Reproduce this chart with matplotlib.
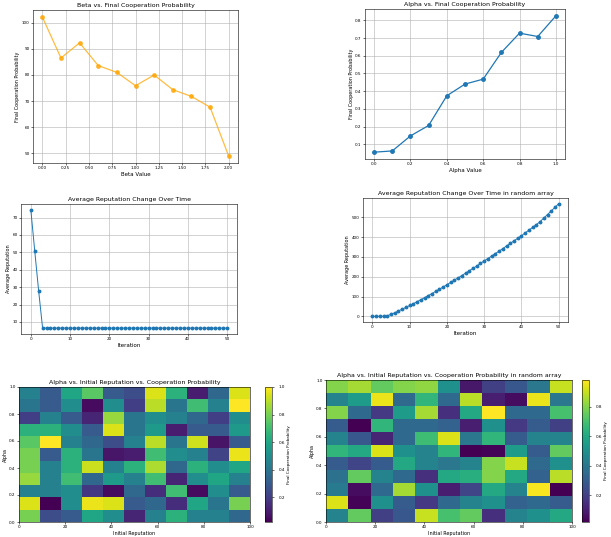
import matplotlib

matplotlib.use("Agg")
import matplotlib.pyplot as plt

# beta sweep
beta_values = [0.0, 0.2, 0.4, 0.6, 0.8, 1.0, 1.2, 1.4, 1.6, 1.8, 2.0]
beta_tick_labels = ["0.00", "0.25", "0.50", "0.75", "1.00", "1.25", "1.50", "1.75", "2.00"]
beta_coop = [102.2, 86.5, 92.3, 83.6, 81.0, 75.9, 80.0, 74.4, 71.8, 67.7, 49.0]

# alpha sweep
alpha_values = [0.0, 0.1, 0.2, 0.3, 0.4, 0.5, 0.6, 0.7, 0.8, 0.9, 1.0]
alpha_coop = [0.055, 0.062, 0.147, 0.206, 0.374, 0.44, 0.468, 0.619, 0.728, 0.709, 0.826]

# reputation over time
iterations = list(range(51))
avg_rep = [74.4, 50.8, 27.7] + [6.5] * 48
avg_rep_random = [
    0, 0, 0, 1, 3, 10, 18, 27, 36, 45,
    55, 64, 74, 84, 94, 105, 115, 126, 137, 148,
    160, 171, 183, 194, 206, 218, 230, 242, 254, 267,
    280, 292, 304, 317, 329, 342, 355, 368, 381, 394,
    407, 421, 435, 449, 463, 478, 496, 514, 532, 550,
    569,
]

# heatmaps (rows: alpha from 1.0 down to 0.0, cols: initial reputation 0..100)
coop_grid = [
    [0.45, 0.30, 0.60, 0.75, 0.30, 0.25, 0.95, 0.65, 0.10, 0.35, 0.95],
    [0.40, 0.30, 0.50, 0.05, 0.50, 0.20, 0.90, 0.40, 0.70, 0.45, 1.00],
    [0.20, 0.45, 0.30, 0.12, 0.85, 0.40, 0.50, 0.45, 0.35, 0.20, 0.50],
    [0.65, 0.65, 0.50, 0.30, 0.95, 0.40, 0.55, 0.10, 0.30, 0.30, 0.55],
    [0.75, 1.00, 0.45, 0.35, 0.25, 0.45, 0.90, 0.40, 0.93, 0.07, 0.30],
    [0.80, 0.30, 0.65, 0.40, 0.08, 0.10, 0.70, 0.50, 0.45, 0.22, 0.97],
    [0.80, 0.45, 0.65, 0.92, 0.45, 0.65, 0.88, 0.35, 0.65, 0.50, 0.60],
    [0.85, 0.45, 0.70, 0.35, 0.55, 0.45, 0.70, 0.12, 0.50, 0.60, 0.45],
    [0.45, 0.45, 0.50, 0.18, 0.05, 0.35, 0.15, 0.70, 0.05, 0.50, 0.30],
    [0.95, 0.02, 0.50, 0.97, 0.95, 0.30, 0.35, 0.15, 0.60, 0.40, 0.80],
    [0.80, 0.25, 0.30, 0.60, 0.50, 0.12, 0.45, 0.65, 0.45, 0.45, 0.35],
]
coop_grid_random = [
    [0.80, 0.85, 0.75, 0.80, 0.82, 0.50, 0.08, 0.20, 0.28, 0.40, 0.90],
    [0.45, 0.55, 0.95, 0.35, 0.65, 0.35, 0.88, 0.10, 0.05, 0.95, 0.40],
    [0.80, 0.35, 0.18, 0.55, 0.85, 0.15, 0.60, 0.98, 0.35, 0.35, 0.70],
    [0.30, 0.02, 0.65, 0.35, 0.35, 0.32, 0.10, 0.50, 0.18, 0.30, 0.20],
    [0.45, 0.28, 0.12, 0.35, 0.68, 0.93, 0.40, 0.65, 0.30, 0.45, 0.45],
    [0.65, 0.60, 0.93, 0.50, 0.45, 0.65, 0.02, 0.03, 0.55, 0.30, 0.75],
    [0.30, 0.22, 0.30, 0.60, 0.45, 0.40, 0.45, 0.80, 0.90, 0.35, 0.50],
    [0.38, 0.75, 0.45, 0.35, 0.15, 0.60, 0.62, 0.80, 0.60, 0.32, 0.88],
    [0.42, 0.05, 0.35, 0.85, 0.50, 0.10, 0.22, 0.60, 0.45, 0.97, 0.02],
    [0.93, 0.03, 0.50, 0.30, 0.18, 0.35, 0.45, 0.50, 0.32, 0.35, 0.30],
    [0.45, 0.75, 0.20, 0.28, 0.90, 0.70, 0.75, 0.15, 0.45, 0.50, 0.60],
]

W, H = 611, 537


def box(x0, y0, x1, y1):
    # pixel box (top-left origin) -> figure fraction
    return [x0 / W, 1 - y1 / H, (x1 - x0) / W, (y1 - y0) / H]


def style(ax, title, xlabel, ylabel, xfs=4):
    ax.set_title(title, fontsize=4.5, pad=2)
    ax.set_xlabel(xlabel, fontsize=xfs, labelpad=1)
    ax.set_ylabel(ylabel, fontsize=3.5, labelpad=1)
    ax.tick_params(labelsize=3, length=1.5, width=0.4, pad=1)
    for s in ax.spines.values():
        s.set_linewidth(0.4)


fig = plt.figure(figsize=(W / 100, H / 100), dpi=100)

ax1 = fig.add_axes(box(33, 10, 238, 163))
ax1.plot(beta_values, beta_coop, color="orange", alpha=0.75, marker="o",
         markersize=2.5, linewidth=0.9)
ax1.set_xticks([0, 0.25, 0.5, 0.75, 1.0, 1.25, 1.5, 1.75, 2.0])
ax1.set_xticklabels(beta_tick_labels)
ax1.grid(True, linewidth=0.4)
style(ax1, "Beta vs. Final Cooperation Probability", "Beta Value",
      "Final Cooperation Probability")

ax2 = fig.add_axes(box(365, 9, 565, 159))
ax2.plot(alpha_values, alpha_coop, marker="o", markersize=2.5, linewidth=0.9)
ax2.grid(True, linewidth=0.4)
style(ax2, "Alpha vs. Final Cooperation Probability", "Alpha Value",
      "Final Cooperation Probability")

ax3 = fig.add_axes(box(21, 204, 237, 334))
ax3.plot(iterations, avg_rep, marker="o", markersize=1.8, linewidth=0.7)
ax3.grid(True, linewidth=0.4)
style(ax3, "Average Reputation Change Over Time", "Iteration", "Average Reputation")

ax4 = fig.add_axes(box(363, 198, 568, 322))
ax4.plot(iterations, avg_rep_random, marker="o", markersize=1.8, linewidth=0.7)
ax4.grid(True, linewidth=0.4)
style(ax4, "Average Reputation Change Over Time in random array", "Iteration",
      "Average Reputation")

ax5 = fig.add_axes(box(19, 387, 250, 522))
im5 = ax5.imshow(coop_grid, extent=[0, 100, 0, 1], aspect="auto", cmap="viridis")
style(ax5, "Alpha vs. Initial Reputation vs. Cooperation Probability",
      "Initial Reputation", "Alpha", xfs=3.5)
cax5 = fig.add_axes(box(265, 387, 272, 522))
cb5 = fig.colorbar(im5, cax=cax5)
cb5.set_label("Final Cooperation Probability", fontsize=3, labelpad=1)
cb5.ax.tick_params(labelsize=3, length=1.5, width=0.4)
cb5.outline.set_linewidth(0.4)

ax6 = fig.add_axes(box(326, 380, 572, 522))
im6 = ax6.imshow(coop_grid_random, extent=[0, 100, 0, 1], aspect="auto", cmap="viridis")
style(ax6, "Alpha vs. Initial Reputation vs. Cooperation Probability in random array",
      "Initial Reputation", "Alpha", xfs=3.5)
cax6 = fig.add_axes(box(582, 380, 589, 522))
cb6 = fig.colorbar(im6, cax=cax6)
cb6.set_label("Final Cooperation Probability", fontsize=3, labelpad=1)
cb6.ax.tick_params(labelsize=3, length=1.5, width=0.4)
cb6.outline.set_linewidth(0.4)

fig.savefig("out.png", dpi=100)
